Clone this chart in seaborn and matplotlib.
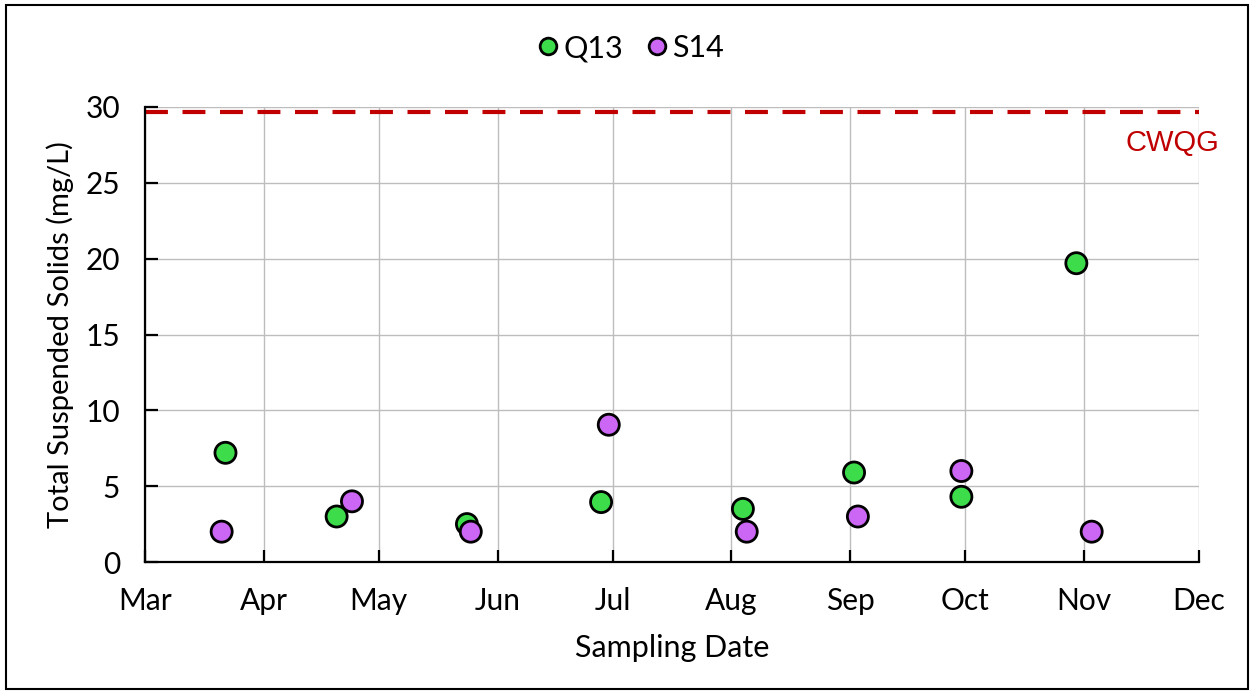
import pandas as pd
import numpy as np
import matplotlib.pyplot as plt
import matplotlib.dates as mdates
from matplotlib.patches import Rectangle
from matplotlib.lines import Line2D
import seaborn as sns

# data
q13_dates = ["2023-03-22", "2023-04-20", "2023-05-24", "2023-06-28",
             "2023-08-04", "2023-09-02", "2023-09-30", "2023-10-30"]
q13_tss = [7.2, 3.0, 2.5, 3.95, 3.5, 5.9, 4.3, 19.7]

s14_dates = ["2023-03-21", "2023-04-24", "2023-05-25", "2023-06-30",
             "2023-08-05", "2023-09-03", "2023-09-30", "2023-11-03"]
s14_tss = [2.0, 4.0, 2.0, 9.05, 2.0, 3.0, 6.0, 2.0]

sites = ["Q13", "S14"]
cwqg = 29.7

df = pd.DataFrame({
    "date": pd.to_datetime(q13_dates + s14_dates),
    "tss": q13_tss + s14_tss,
    "site": [sites[0]] * len(q13_dates) + [sites[1]] * len(s14_dates),
})

colors = {"Q13": "#3ddc4b", "S14": "#cc66f5"}

sns.set_style("white")
plt.rcParams['font.family'] = ['Lato', 'DejaVu Sans']

fig = plt.figure(figsize=(12.54, 6.94), dpi=100)
ax = fig.add_axes([145 / 1254, 1 - 562 / 694, (1199 - 145) / 1254, (562 - 107) / 694])

# CWQG guideline
ax.axhline(cwqg, color="#c00000", lw=3, ls=(0, (5.5, 3.5)), zorder=2)

sns.scatterplot(data=df, x="date", y="tss", hue="site", palette=colors,
                s=230, edgecolor="black", linewidth=2, legend=False, ax=ax, zorder=3)

ax.set_xlim(pd.Timestamp("2023-03-01"), pd.Timestamp("2023-12-01"))
ax.set_ylim(0, 30)
ax.set_yticks(np.arange(0, 31, 5))

ax.xaxis.set_major_locator(mdates.MonthLocator())
ax.xaxis.set_major_formatter(mdates.DateFormatter("%b"))
ax.xaxis.set_minor_locator(mdates.DayLocator(bymonthday=[7, 13, 19, 25]))

ax.grid(True, which="major", color="#bdbdbd", lw=1)
ax.set_axisbelow(True)
for s in ["top", "right"]:
    ax.spines[s].set_visible(False)
for s in ["left", "bottom"]:
    ax.spines[s].set_color("black")
    ax.spines[s].set_linewidth(1.6)

ax.tick_params(axis="both", which="major", direction="in", length=9, width=1.6,
               labelsize=21.5, pad=18, color="black", labelcolor="black")
ax.tick_params(axis="x", which="minor", direction="in", length=5, width=1.4, color="black")
ax.tick_params(axis="y", which="major", left=True)
ax.tick_params(axis="x", which="major", bottom=True)

ax.set_xlabel("Sampling Date", fontsize=22, labelpad=14, color="black")
ax.set_ylabel("Total Suspended Solids (mg/L)", fontsize=21, labelpad=8, color="black")

ax.text((1172 - 145) / 1054, 27.6, "CWQG", color="#c00000", fontsize=21,
        family="Liberation Sans", transform=ax.get_yaxis_transform(),
        ha="center", va="center")

handles = [Line2D([], [], marker="o", ls="", markerfacecolor=colors[k],
                  markeredgecolor="black", markeredgewidth=2, markersize=12)
           for k in sites]
fig.legend(handles, sites, loc="center", bbox_to_anchor=(0.5, 1 - 48 / 694), ncol=2,
           frameon=False, fontsize=22, handletextpad=-0.1, columnspacing=0.5,
           handlelength=1.2, labelcolor="black")

# border around the whole figure
fig.patches.append(Rectangle((6 / 1254, 5 / 694), 1 - 12 / 1254, 1 - 10 / 694,
                             transform=fig.transFigure, fill=False,
                             edgecolor="black", lw=1.5))

fig.savefig("out.png", dpi=100)
